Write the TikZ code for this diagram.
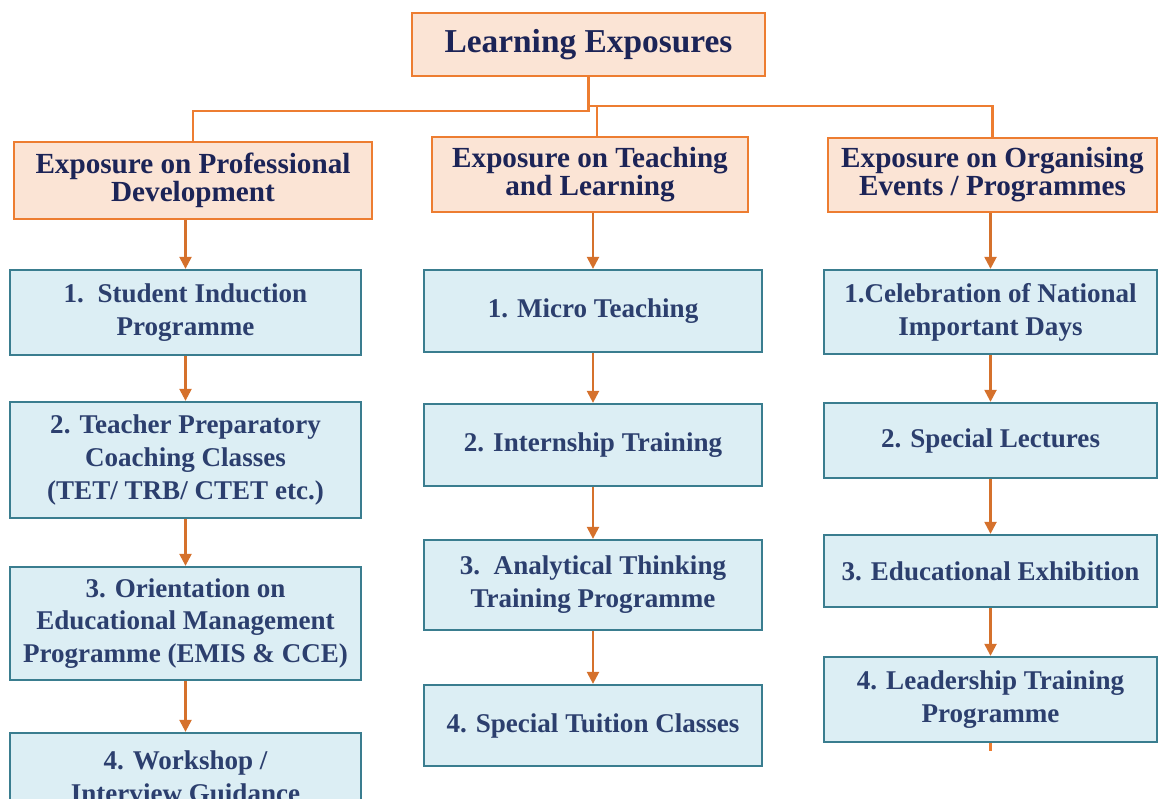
\documentclass[tikz,border=0pt]{standalone}
\usepackage{fontspec}
\setmainfont{Liberation Serif}
\usepackage{tikz}
\usetikzlibrary{arrows.meta}

\definecolor{orangeline}{HTML}{ED7D31}
\definecolor{peach}{HTML}{FBE4D5}
\definecolor{tealline}{HTML}{3A7D8F}
\definecolor{paleblue}{HTML}{DCEEF4}
\definecolor{navytext}{HTML}{1C2457}
\definecolor{slatetext}{HTML}{2C3F6E}

\tikzset{
  headbox/.style={draw=orangeline, line width=1.3pt, fill=peach, text=navytext,
    font=\fontsize{16.6}{16}\selectfont\bfseries, align=center, inner sep=0pt},
  itembox/.style={draw=tealline, line width=1.3pt, fill=paleblue, text=slatetext,
    font=\fontsize{15.4}{18.7}\selectfont\bfseries, align=center, inner sep=0pt},
  link/.style={draw=orangeline, line width=1.3pt},
  flow/.style={draw=orangeline!90!black, line width=1.3pt, -{Triangle[length=2.4mm,width=2.4mm]}}
}

\begin{document}
\begin{tikzpicture}
            \useasboundingbox (0,0) rectangle (23.18,-15.96);
            \clip (0,0) rectangle (23.18,-15.96);
            % Cajas
            \node[headbox, minimum width=7.06cm, minimum height=1.26cm, font=\fontsize{19}{20}\selectfont\bfseries] (root) at (11.77,-0.89) {Learning Exposures};
            \node[headbox, minimum width=7.16cm, minimum height=1.54cm] (pd) at (3.86,-3.61) {Exposure on Professional\\Development};
            \node[headbox, minimum width=6.32cm, minimum height=1.50cm] (tl) at (11.80,-3.49) {Exposure on Teaching\\and Learning};
            \node[headbox, minimum width=6.58cm, minimum height=1.48cm] (oe) at (19.85,-3.50) {Exposure on Organising\\Events / Programmes};

            \node[itembox, minimum width=7.02cm, minimum height=1.70cm] (pd1) at (3.71,-6.25) {1.\ \ Student Induction\\Programme};
            \node[itembox, minimum width=7.02cm, minimum height=2.32cm] (pd2) at (3.71,-9.20) {2. Teacher Preparatory\\Coaching Classes\\(TET/ TRB/ CTET etc.)};
            \node[itembox, minimum width=7.02cm, minimum height=2.26cm] (pd3) at (3.71,-12.47) {3. Orientation on\\Educational Management\\Programme (EMIS \& CCE)};
            \node[itembox, minimum width=7.02cm, minimum height=1.76cm] (pd4) at (3.71,-15.54) {4. Workshop /\\Interview Guidance};

            \node[itembox, minimum width=6.76cm, minimum height=1.64cm] (tl1) at (11.86,-6.22) {1. Micro Teaching};
            \node[itembox, minimum width=6.76cm, minimum height=1.64cm] (tl2) at (11.86,-8.90) {2. Internship Training};
            \node[itembox, minimum width=6.76cm, minimum height=1.80cm] (tl3) at (11.86,-11.70) {3.\ \ Analytical Thinking\\Training Programme};
            \node[itembox, minimum width=6.76cm, minimum height=1.62cm] (tl4) at (11.86,-14.51) {4. Special Tuition Classes};

            \node[itembox, minimum width=6.66cm, minimum height=1.68cm] (oe1) at (19.81,-6.24) {1.Celebration of National\\Important Days};
            \node[itembox, minimum width=6.66cm, minimum height=1.50cm] (oe2) at (19.81,-8.81) {2. Special Lectures};
            \node[itembox, minimum width=6.66cm, minimum height=1.44cm] (oe3) at (19.81,-11.42) {3. Educational Exhibition};
            \node[itembox, minimum width=6.66cm, minimum height=1.70cm] (oe4) at (19.81,-13.99) {4. Leadership Training\\Programme};

            \coordinate (hub) at (11.94,-2.12);
            \coordinate (tail) at (19.81,-15.02);

            % Lineas
            \draw[link] (root.south) -- ++(0,-0.68) -| (pd.north);
            \draw[link] (root.south) |- (hub);
            \draw[link] (hub) -| (oe.north);
            \draw[link] (hub) -- (hub |- tl.north);
            \draw[link] (oe4.south) -- (tail);

            % Flechas
            \draw[flow] (pd1.north |- pd.south) -- (pd1.north);
            \draw[flow] (pd1) -- (pd2);
            \draw[flow] (pd2) -- (pd3);
            \draw[flow] (pd3) -- (pd4);
            \draw[flow] (tl1.north |- tl.south) -- (tl1.north);
            \draw[flow] (tl1) -- (tl2);
            \draw[flow] (tl2) -- (tl3);
            \draw[flow] (tl3) -- (tl4);
            \draw[flow] (oe1.north |- oe.south) -- (oe1.north);
            \draw[flow] (oe1) -- (oe2);
            \draw[flow] (oe2) -- (oe3);
            \draw[flow] (oe3) -- (oe4);
          \end{tikzpicture}
\end{document}
